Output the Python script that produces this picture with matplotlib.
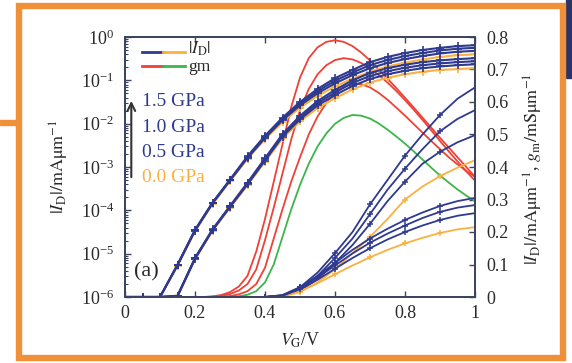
import numpy as np
import matplotlib
matplotlib.use("Agg")
import matplotlib.pyplot as plt
from matplotlib.patches import Rectangle
from matplotlib.ticker import FuncFormatter, MultipleLocator, LogLocator

plt.rcParams['font.family'] = ['Liberation Serif', 'DejaVu Serif']
plt.rcParams['mathtext.fontset'] = 'stix'

NAVY = "#2e3a8f"
ORANGE = "#fbb040"
RED = "#ef4136"
GREEN = "#3cb54a"
AXC = "#3d4460"
TXT = "#2a2a2a"

# gate voltage grids (V)
vg = np.linspace(0, 1, 21)
vg_gm = np.linspace(0, 1, 41)

# log10(|I_D| / mA um^-1), upper log bundle
log_up_15 = [-6, -6, -6, -5.25, -4.45, -3.82, -3.29, -2.75, -2.28, -1.86, -1.50,
             -1.20, -0.95, -0.76, -0.58, -0.46, -0.37, -0.30, -0.25, -0.21, -0.19]
log_up_10 = [-6, -6, -6, -5.26, -4.46, -3.83, -3.30, -2.77, -2.30, -1.89, -1.54,
             -1.25, -1.01, -0.82, -0.65, -0.53, -0.44, -0.37, -0.31, -0.27, -0.25]
log_up_05 = [-6, -6, -6, -5.27, -4.47, -3.84, -3.31, -2.79, -2.33, -1.92, -1.58,
             -1.30, -1.07, -0.88, -0.72, -0.60, -0.51, -0.44, -0.38, -0.34, -0.32]
log_up_00 = [-6, -6, -6, -5.28, -4.48, -3.86, -3.33, -2.81, -2.36, -1.96, -1.63,
             -1.36, -1.14, -0.96, -0.80, -0.68, -0.59, -0.52, -0.46, -0.42, -0.40]
# lower log bundle
log_lo_15 = [-6, -6, -6, -5.97, -5.10, -4.44, -3.90, -3.36, -2.80, -2.24, -1.82,
             -1.48, -1.22, -1.00, -0.83, -0.72, -0.64, -0.58, -0.54, -0.51, -0.49]
log_lo_10 = [-6, -6, -6, -5.98, -5.11, -4.45, -3.91, -3.38, -2.82, -2.27, -1.86,
             -1.53, -1.28, -1.06, -0.90, -0.79, -0.71, -0.65, -0.61, -0.58, -0.56]
log_lo_05 = [-6, -6, -6, -5.98, -5.12, -4.46, -3.92, -3.40, -2.85, -2.30, -1.90,
             -1.58, -1.34, -1.13, -0.97, -0.86, -0.78, -0.72, -0.68, -0.65, -0.63]
log_lo_00 = [-6, -6, -6, -5.99, -5.13, -4.47, -3.94, -3.42, -2.88, -2.34, -1.95,
             -1.64, -1.41, -1.21, -1.05, -0.94, -0.86, -0.80, -0.76, -0.74, -0.72]

# linear |I_D| (mA um^-1), right axis
lin_a_15 = [0, 0, 0, 0, 0, 0, 0, 0, 0, 0.005, 0.03, 0.075, 0.135, 0.20, 0.285,
            0.36, 0.435, 0.50, 0.56, 0.61, 0.645]
lin_a_10 = [0, 0, 0, 0, 0, 0, 0, 0, 0, 0.004, 0.025, 0.065, 0.12, 0.18, 0.255,
            0.33, 0.395, 0.455, 0.51, 0.548, 0.575]
lin_a_05 = [0, 0, 0, 0, 0, 0, 0, 0, 0, 0.003, 0.02, 0.055, 0.105, 0.16, 0.225,
            0.295, 0.355, 0.41, 0.447, 0.476, 0.498]
lin_a_00 = [0, 0, 0, 0, 0, 0, 0, 0, 0, 0.002, 0.015, 0.045, 0.085, 0.135, 0.185,
            0.24, 0.30, 0.34, 0.372, 0.398, 0.421]
lin_b_15 = [0, 0, 0, 0, 0, 0, 0, 0, 0, 0.006, 0.03, 0.065, 0.105, 0.145, 0.18,
            0.21, 0.237, 0.26, 0.28, 0.295, 0.305]
lin_b_10 = [0, 0, 0, 0, 0, 0, 0, 0, 0, 0.005, 0.027, 0.06, 0.097, 0.134, 0.167,
            0.195, 0.22, 0.243, 0.262, 0.275, 0.283]
lin_b_05 = [0, 0, 0, 0, 0, 0, 0, 0, 0, 0.004, 0.024, 0.053, 0.087, 0.12, 0.15,
            0.177, 0.2, 0.22, 0.237, 0.25, 0.258]
lin_b_00 = [0, 0, 0, 0, 0, 0, 0, 0, 0, 0.003, 0.018, 0.042, 0.07, 0.097, 0.122,
            0.145, 0.165, 0.182, 0.197, 0.208, 0.215]

# transconductance gm (mS um^-1)
gm_15 = [0, 0, 0, 0, 0, 0, 0, 0, 0, 0, 0.002, 0.006, 0.015, 0.032, 0.065, 0.14,
         0.24, 0.355, 0.47, 0.585, 0.675, 0.735, 0.768, 0.785, 0.79, 0.785, 0.772,
         0.752, 0.728, 0.70, 0.672, 0.643, 0.613, 0.583, 0.552, 0.521, 0.49,
         0.46, 0.43, 0.40, 0.37]
gm_10 = [0, 0, 0, 0, 0, 0, 0, 0, 0, 0, 0.001, 0.004, 0.009, 0.02, 0.04, 0.085,
         0.175, 0.275, 0.38, 0.485, 0.575, 0.64, 0.685, 0.713, 0.729, 0.735,
         0.731, 0.72, 0.703, 0.683, 0.66, 0.634, 0.606, 0.576, 0.545, 0.513,
         0.48, 0.448, 0.417, 0.387, 0.358]
gm_05 = [0, 0, 0, 0, 0, 0, 0, 0, 0, 0, 0, 0.001, 0.003, 0.008, 0.018, 0.04,
         0.09, 0.18, 0.27, 0.355, 0.43, 0.5, 0.555, 0.597, 0.627, 0.647, 0.656,
         0.655, 0.645, 0.628, 0.607, 0.583, 0.558, 0.532, 0.506, 0.48, 0.455,
         0.43, 0.408, 0.388, 0.37]
gm_00 = [0, 0, 0, 0, 0, 0, 0, 0, 0, 0, 0, 0, 0, 0.002, 0.007, 0.018, 0.045,
         0.1, 0.185, 0.27, 0.345, 0.41, 0.463, 0.503, 0.533, 0.551, 0.56, 0.558,
         0.549, 0.534, 0.515, 0.494, 0.472, 0.448, 0.423, 0.398, 0.374, 0.352,
         0.331, 0.312, 0.295]

pressures = ["1.5 GPa", "1.0 GPa", "0.5 GPa", "0.0 GPa"]
p_colors = [NAVY, NAVY, NAVY, ORANGE]

fig = plt.figure(figsize=(5.72, 3.63), dpi=100)
fig.patch.set_facecolor("white")

# slide frame around the figure
fig.patches.append(Rectangle((566 / 572, 285 / 363), 6 / 572, 78 / 363,
                             transform=fig.transFigure, color="#2b3466", zorder=0))
fig.patches.append(Rectangle((0, 238 / 363), 16 / 572, 5 / 363,
                             transform=fig.transFigure, color="#f0913a", zorder=0))
fig.patches.append(Rectangle((19 / 572, 5 / 363), 544 / 572, 352 / 363,
                             transform=fig.transFigure, fill=False,
                             edgecolor="#f0913a", lw=4.6, zorder=1))

ax = fig.add_axes([125 / 572, 66 / 363, 350 / 572, 260 / 363])

# gm curves and linear |ID| on the right axis
for y, c in zip([gm_00, gm_05, gm_10, gm_15], [GREEN, RED, RED, RED]):
    ax.plot(vg_gm, y, color=c, lw=1.3)
lin_sets = [(lin_a_00, ORANGE), (lin_a_05, NAVY), (lin_a_10, NAVY), (lin_a_15, NAVY),
            (lin_b_00, ORANGE), (lin_b_05, NAVY), (lin_b_10, NAVY), (lin_b_15, NAVY)]
for y, c in lin_sets:
    ax.plot(vg, y, color=c, lw=1.3, marker="+", ms=5, mew=1.1,
            markevery=slice(8, 20, 2))

# log |ID| on the left axis, drawn on top
axl = ax.twinx()
axl.set_yscale("log")
log_sets = [(log_up_00, ORANGE), (log_up_05, NAVY), (log_up_10, NAVY), (log_up_15, NAVY),
            (log_lo_00, ORANGE), (log_lo_05, NAVY), (log_lo_10, NAVY), (log_lo_15, NAVY)]
for y, c in log_sets:
    axl.plot(vg, 10.0 ** np.array(y), color=c, lw=1.5, marker="+", ms=6, mew=1.2)
axl.set_ylim(1e-6, 1)

# twinx moves the host ticks to the left, so swap sides afterwards
axl.yaxis.tick_left()
axl.yaxis.set_label_position("left")
ax.yaxis.tick_right()
ax.yaxis.set_label_position("right")

ax.set_xlim(0, 1)
ax.set_ylim(0, 0.8)
ax.yaxis.set_major_locator(MultipleLocator(0.1))
ax.yaxis.set_major_formatter(FuncFormatter(lambda v, p: f"{v:g}"))
ax.xaxis.set_major_locator(MultipleLocator(0.2))
ax.xaxis.set_major_formatter(FuncFormatter(lambda v, p: f"{v:g}"))
ax.tick_params(axis="both", direction="in", length=4, width=1, color=AXC,
               labelsize=13, labelcolor=TXT)
ax.tick_params(axis="x", top=True, pad=6)
ax.tick_params(axis="y", left=False, right=True, labelleft=False,
               labelright=True, pad=8)
ax.set_xlabel(r"$V_\mathrm{G}$/V", fontsize=13, color=TXT)
ax.xaxis.set_label_coords(0.5, -0.13)
ax.set_ylabel(r"$|I_\mathrm{D}|/\mathrm{mA\mu m}^{-1}$, $g_\mathrm{m}/\mathrm{mS\mu m}^{-1}$",
              fontsize=13, color=TXT)
ax.yaxis.set_label_coords(1.135, 0.49)

axl.yaxis.set_major_locator(LogLocator(base=10, numticks=10))
axl.yaxis.set_minor_locator(LogLocator(base=10, subs=np.arange(2, 10), numticks=10))
axl.tick_params(axis="y", which="major", direction="in", length=4, width=1,
                color=AXC, labelsize=13, labelcolor=TXT, pad=8,
                left=True, right=False, labelleft=True, labelright=False)
axl.tick_params(axis="y", which="minor", direction="in", length=2, width=0.8,
                color=AXC, left=True, right=False)
axl.set_ylabel(r"$|I_\mathrm{D}|/\mathrm{mA\mu m}^{-1}$", fontsize=13, color=TXT)
axl.yaxis.set_label_coords(-0.155, 0.5)

for a in (ax, axl):
    for s in a.spines.values():
        s.set_color(AXC)
        s.set_linewidth(1.3)

# legend drawn by hand: two-colour line samples
tr = axl.transAxes
axl.plot([0.049, 0.109], [0.942, 0.942], transform=tr, color=NAVY, lw=2, clip_on=False)
axl.plot([0.109, 0.17], [0.942, 0.942], transform=tr, color=ORANGE, lw=2, clip_on=False)
axl.plot([0.049, 0.109], [0.887, 0.887], transform=tr, color=RED, lw=2, clip_on=False)
axl.plot([0.109, 0.17], [0.887, 0.887], transform=tr, color=GREEN, lw=2, clip_on=False)
axl.text(0.18, 0.955, r"$|I_\mathrm{D}|$", transform=tr, fontsize=12.5, color=TXT,
         va="center")
axl.text(0.18, 0.885, "gm", transform=tr, fontsize=12.5, color=TXT, va="center")

for i, (lab, c) in enumerate(zip(pressures, p_colors)):
    axl.text(0.05, 0.75 - i * 0.097, lab, transform=tr, fontsize=14, color=c,
             va="center")
axl.annotate("", xy=(0.018, 0.765), xytext=(0.018, 0.45), xycoords="axes fraction",
             arrowprops=dict(arrowstyle="->", color="#333333", lw=1.5,
                             mutation_scale=14))

axl.text(0.025, 0.095, "(a)", transform=tr, fontsize=16, color=TXT, va="center")

fig.savefig("out.png", dpi=100)
